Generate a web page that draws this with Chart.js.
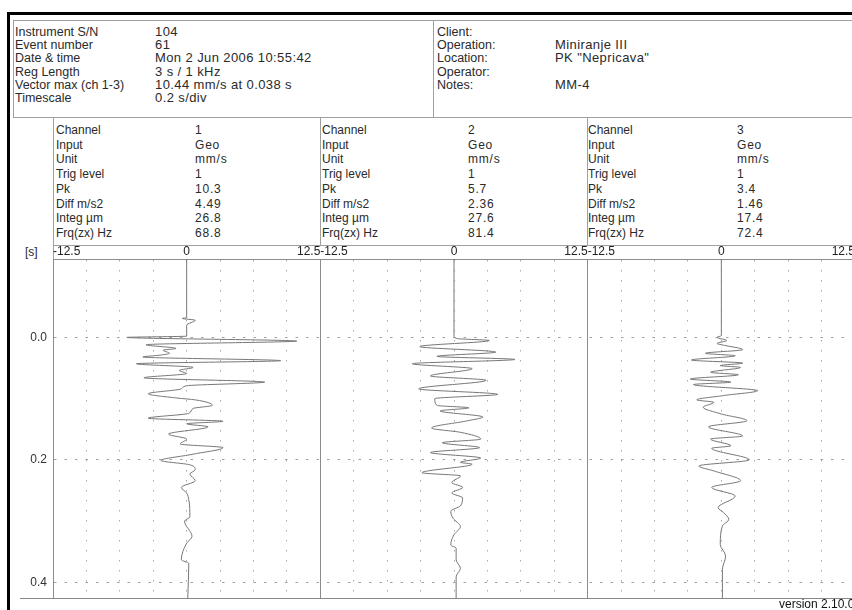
<!DOCTYPE html>
<html>
<head>
<meta charset="utf-8">
<title>Seismograph record</title>
<script src="https://cdn.jsdelivr.net/npm/chart.js@4.4.1/dist/chart.umd.min.js"></script>
<style>
  html, body { margin: 0; padding: 0; background: #fff; overflow: hidden; }
  body { width: 852px; height: 610px; position: relative; font-family: "Liberation Sans", Arial, sans-serif; font-size: 12px; color: #2a2a2a; }
  .t { position: absolute; line-height: 14px; white-space: nowrap; }
  .h { font-size: 12.5px; }
  .hv { font-size: 13px; letter-spacing: 0.4px; }
  .cv { letter-spacing: 0.8px; }
  .ln { position: absolute; background: #a0a0a0; }
  #plot { position: absolute; left: 0; top: 245px; width: 856px; height: 355px; }
</style>
</head>
<body>

<!-- frame -->
<div class="ln" style="left:7px;top:12px;width:845px;height:3px;background:#000"></div>
<div class="ln" style="left:7px;top:12px;width:3px;height:598px;background:#000"></div>
<div class="ln" style="left:13px;top:20px;width:839px;height:1px"></div>
<div class="ln" style="left:13px;top:20px;width:1px;height:97px"></div>
<div class="ln" style="left:433px;top:20px;width:1px;height:97px"></div>
<div class="ln" style="left:13px;top:117px;width:839px;height:1px"></div>
<div class="ln" style="left:53px;top:117px;width:1px;height:142px"></div>
<div class="ln" style="left:320px;top:117px;width:1px;height:128px"></div>
<div class="ln" style="left:587px;top:117px;width:1px;height:128px"></div>
<div class="ln" style="left:53px;top:245px;width:799px;height:1px"></div>

<!-- header left -->
<div class="t h" style="left:15px;top:25px">Instrument S/N</div>
<div class="t h" style="left:15px;top:38px">Event number</div>
<div class="t h" style="left:15px;top:51px">Date &amp; time</div>
<div class="t h" style="left:15px;top:65px">Reg Length</div>
<div class="t h" style="left:15px;top:78px">Vector max (ch 1-3)</div>
<div class="t h" style="left:15px;top:91px">Timescale</div>
<div class="t hv" style="left:155px;top:25px">104</div>
<div class="t hv" style="left:155px;top:38px">61</div>
<div class="t hv" style="left:155px;top:51px">Mon 2 Jun 2006 10:55:42</div>
<div class="t hv" style="left:155px;top:65px">3 s / 1 kHz</div>
<div class="t hv" style="left:155px;top:78px">10.44 mm/s at 0.038 s</div>
<div class="t hv" style="left:155px;top:91px">0.2 s/div</div>

<!-- header right -->
<div class="t h" style="left:437px;top:25px">Client:</div>
<div class="t h" style="left:437px;top:38px">Operation:</div>
<div class="t h" style="left:437px;top:51px">Location:</div>
<div class="t h" style="left:437px;top:65px">Operator:</div>
<div class="t h" style="left:437px;top:78px">Notes:</div>
<div class="t hv" style="left:555px;top:38px">Miniranje III</div>
<div class="t hv" style="left:555px;top:51px">PK "Nepricava"</div>
<div class="t hv" style="left:555px;top:78px">MM-4</div>

<div id="info"></div>

<div class="t" style="left:25px;top:245px">[s]</div>

<div id="plot"><canvas id="chartSeis"></canvas></div>

<div class="ln" style="left:20px;top:598px;width:832px;height:1px;background:#888"></div>
<div class="t" style="left:779px;top:597px;color:#111">version 2.10.0</div>

<script>
// channel traces: time [s] and velocity [mm/s]
const ch1Time = [-0.128, -0.032, -0.031, -0.028, -0.020, -0.002, 0.000, 0.006, 0.012, 0.018, 0.021, 0.026, 0.029, 0.032, 0.038, 0.043, 0.049, 0.054, 0.059, 0.066, 0.073, 0.079, 0.084, 0.092, 0.099, 0.102, 0.111, 0.116, 0.124, 0.132, 0.137, 0.141, 0.146, 0.158, 0.166, 0.174, 0.180, 0.191, 0.201, 0.208, 0.216, 0.223, 0.234, 0.245, 0.254, 0.265, 0.293, 0.300, 0.325, 0.336, 0.363, 0.369, 0.4255];
const ch1Vel = [0, 0, -0.4, 0.8, 0, 0, -5.6, 10.3, -3.8, -1.0, -2.2, -1.6, -2.5, -4.1, 8.8, -4.7, 0.6, -0.7, 0.0, -4.0, 7.3, 0.0, -0.5, -3.6, -0.9, 0.8, 2.4, 0.6, 0.2, -3.6, 3.4, 0.0, 2.0, -1.7, 0.0, -0.6, 3.4, 0.5, -2.4, 0.3, 0.8, 0.3, 0.8, -0.5, 0.0, 0.2, 0.3, -0.2, 0.5, 0.0, -0.5, 0.2, 0.1];

const ch2Time = [-0.128, -0.002, 0.002, 0.005, 0.015, 0.024, 0.031, 0.036, 0.043, 0.051, 0.063, 0.070, 0.084, 0.093, 0.100, 0.111, 0.115, 0.120, 0.130, 0.136, 0.148, 0.155, 0.166, 0.172, 0.180, 0.188, 0.197, 0.204, 0.207, 0.221, 0.226, 0.237, 0.245, 0.254, 0.262, 0.275, 0.284, 0.295, 0.309, 0.322, 0.339, 0.344, 0.363, 0.377, 0.391, 0.4255];
const ch2Vel = [0, 0, 0.3, 3.3, -3.2, 3.9, -1.6, 5.7, -3.9, 1.7, -2.2, 3.0, -3.3, 4.1, -1.8, -1.6, 1.4, -1.3, 2.7, 1.3, -2.1, 0.6, 2.5, -1.1, 2.4, -2.2, 2.5, 0.6, 1.7, -3.0, 0.6, -0.2, 0.8, -0.2, 0.8, 0.6, -0.3, -0.1, 0.6, 0.0, -0.3, 0.2, 0.2, 0.6, 0.2, 0.2];

const ch3Time = [-0.128, -0.003, 0.000, 0.005, 0.010, 0.013, 0.020, 0.026, 0.030, 0.037, 0.042, 0.046, 0.049, 0.057, 0.061, 0.068, 0.073, 0.077, 0.087, 0.095, 0.102, 0.106, 0.114, 0.125, 0.136, 0.146, 0.161, 0.166, 0.177, 0.181, 0.200, 0.210, 0.218, 0.234, 0.245, 0.259, 0.278, 0.286, 0.297, 0.308, 0.338, 0.357, 0.379, 0.4255];
const ch3Vel = [0, 0, -0.4, 0.5, -0.4, 0.3, 2.0, -1.5, 1.3, -2.8, 2.0, -0.1, 1.8, -1.0, 1.6, -2.9, 0.9, -2.6, 3.4, 0.2, -2.3, -0.7, -1.7, 0.0, 2.4, -1.2, 2.0, -1.0, 0.9, -0.9, 2.6, -2.1, -0.7, 1.8, -0.9, 1.3, -0.3, 0.2, 0.7, 0.1, -0.1, 0.4, 0.1, 0.1];

// channel info table
const infoLabels = ['Channel', 'Input', 'Unit', 'Trig level', 'Pk', 'Diff m/s2', 'Integ µm', 'Frq(zx) Hz'];
const ch1Info = ['1', 'Geo', 'mm/s', '1', '10.3', '4.49', '26.8', '68.8'];
const ch2Info = ['2', 'Geo', 'mm/s', '1', '5.7', '2.36', '27.6', '81.4'];
const ch3Info = ['3', 'Geo', 'mm/s', '1', '3.4', '1.46', '17.4', '72.4'];

const xTickLabels = [-12.5, 0, 12.5];
const yTickValues = [0.0, 0.2, 0.4];

// info block text
const info = document.getElementById('info');
const infoCols = [[56, 195, ch1Info], [322, 468, ch2Info], [588, 737, ch3Info]];
infoCols.forEach(function(c) {
    infoLabels.forEach(function(lab, i) {
        const top = 123 + i * 14.7;
        info.insertAdjacentHTML('beforeend',
            '<div class="t" style="left:' + c[0] + 'px;top:' + top + 'px">' + lab + '</div>' +
            '<div class="t cv" style="left:' + c[1] + 'px;top:' + top + 'px">' + c[2][i] + '</div>');
    });
});

Chart.defaults.font.family = '"Liberation Sans", Arial, sans-serif';
Chart.defaults.font.size = 12;

function pts(time, vel) {
    return time.map(function(t, i) { return {x: vel[i], y: t}; });
}

function edge(ctx) {
    return ctx.tick && Math.abs(ctx.tick.value) === 12.5;
}

function noPad(s) {
    s.paddingTop = 0;
    s.paddingBottom = 0;
    s.paddingLeft = 0;
    s.paddingRight = 0;
}

// top axes share one stack; higher weight sits further left
function xAxis(w) {
    return {
        type: 'linear',
        axis: 'x',
        position: 'top',
        stack: 'ch',
        stackWeight: 1,
        weight: w,
        min: -12.5,
        max: 12.5,
        ticks: {
            stepSize: 3.125,
            autoSkip: false,
            maxRotation: 0,
            align: 'inner',
            padding: 0,
            color: '#222',
            callback: function(v) { return xTickLabels.indexOf(v) >= 0 ? String(v) : ''; }
        },
        grid: {
            drawTicks: false,
            lineWidth: 1,
            color: function(ctx) { return edge(ctx) ? '#8c8c8c' : '#ababab'; }
        },
        border: {
            color: '#8c8c8c',
            dash: function(ctx) { return (ctx.tick && !edge(ctx)) ? [1.5, 8.5] : []; }
        },
        afterFit: function(s) { s.height = 14; noPad(s); }
    };
}

function trace(time, vel, axisId) {
    return {
        data: pts(time, vel),
        xAxisID: axisId,
        yAxisID: 'y',
        borderColor: '#777',
        borderWidth: 1,
        pointRadius: 0,
        cubicInterpolationMode: 'monotone',
        fill: false
    };
}

const ctx = document.getElementById('chartSeis').getContext('2d');
new Chart(ctx, {
    type: 'line',
    data: {
        datasets: [
            trace(ch1Time, ch1Vel, 'x1'),
            trace(ch2Time, ch2Vel, 'x2'),
            trace(ch3Time, ch3Vel, 'x3')
        ]
    },
    options: {
        indexAxis: 'y',
        responsive: true,
        maintainAspectRatio: false,
        animation: false,
        layout: { padding: { left: 0, right: 1, top: 0, bottom: 2 } },
        plugins: { legend: { display: false }, tooltip: { enabled: false } },
        scales: {
            x1: xAxis(3),
            x2: xAxis(2),
            x3: xAxis(1),
            y: {
                type: 'linear',
                reverse: true,
                min: -0.128,
                max: 0.4255,
                afterBuildTicks: function(s) { s.ticks = yTickValues.map(function(v) { return {value: v}; }); },
                ticks: {
                    padding: 6,
                    color: '#333',
                    callback: function(v) { return Number(v).toFixed(1); }
                },
                grid: { drawTicks: false, color: '#a0a0a0' },
                border: {
                    color: '#8c8c8c',
                    dash: function(ctx) { return ctx.tick ? [2.5, 8] : []; }
                },
                afterFit: function(s) { s.width = 53; noPad(s); }
            }
        }
    }
});
</script>
</body>
</html>
